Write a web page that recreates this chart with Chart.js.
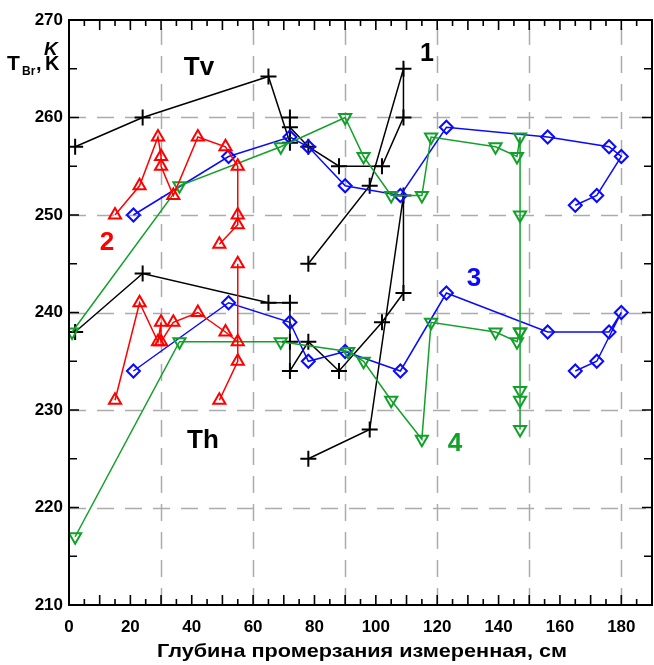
<!DOCTYPE html>
<html>
<head>
<meta charset="utf-8">
<script src="https://cdn.jsdelivr.net/npm/chart.js@4.4.1/dist/chart.umd.min.js"></script>
<style>
  html, body { margin: 0; padding: 0; background: #fff; }
</style>
</head>
<body>
<canvas id="chart" width="654" height="665"></canvas>
<script>
// Глубина, см (x) и яркостная температура, K (y)
// 1 — черные кресты
const s1TvX = [2, 24, 65, 72, 72, 72, 78, 88, 102, 109, 109, 98, 78];
const s1TvY = [257, 260, 264.2, 257.4, 260, 259, 257, 255, 255, 260, 265, 253, 245];
const s1ThX = [2, 24, 65, 72, 72, 72, 78, 88, 102, 109, 109, 98, 78];
const s1ThY = [238, 244, 241, 241, 237, 234, 237, 234, 239, 242, 252, 228, 225];
// 2 — красные треугольники
const s2TvX = [15, 23, 29, 30, 30, 34, 42, 51, 55, 55, 55, 49];
const s2TvY = [250, 253, 258, 256, 255, 252, 258, 257, 255, 250, 249, 247];
const s2ThX = [15, 23, 29, 30, 30, 34, 42, 51, 55, 55, 55, 49];
const s2ThY = [231, 241, 237, 239, 237, 239, 240, 238, 237, 245, 235, 231];
// 3 — синие ромбы
const s3TvX = [21, 52, 72, 78, 90, 108, 123, 156, 176, 180, 172, 165];
const s3TvY = [250, 256, 258, 257, 253, 252, 259, 258, 257, 256, 252, 251];
const s3ThX = [21, 52, 72, 78, 90, 108, 123, 156, 176, 180, 172, 165];
const s3ThY = [234, 241, 239, 235, 236, 234, 242, 238, 238, 240, 235, 234];
// 4 — зеленые перевернутые треугольники
const s4TvX = [1, 36, 69, 90, 96, 105, 115, 118, 139, 146, 147, 147, 147];
const s4TvY = [238, 253, 257, 260, 256, 252, 252, 258, 257, 256, 258, 250, 238];
const s4ThX = [2, 36, 69, 91, 96, 105, 115, 118, 139, 146, 147, 147, 147, 147];
const s4ThY = [217, 237, 237, 236, 235, 231, 227, 239, 238, 237, 238, 232, 231, 228];

const xTicks = [0, 20, 40, 60, 80, 100, 120, 140, 160, 180];
const yTicks = [210, 220, 230, 240, 250, 260, 270];
const xGrid = [30, 60, 90, 120, 150, 180];
const yGrid = [220, 230, 240, 250, 260];

const FONT = "'Liberation Sans', Arial, sans-serif";

function pts(xs, ys) {
    return xs.map((x, i) => ({ x: x, y: ys[i] }));
}

function series(xs, ys, color, style, radius, rotation) {
    return {
        data: pts(xs, ys),
        showLine: true,
        borderColor: color,
        backgroundColor: 'rgba(0,0,0,0)',
        borderWidth: 1.5,
        pointStyle: style,
        pointRadius: radius,
        pointRotation: rotation || 0,
        pointBorderWidth: 2,
        pointBorderColor: color,
        pointBackgroundColor: 'rgba(0,0,0,0)'
    };
}

const BLACK = '#000000', RED = '#ff0000', BLUE = '#0a0aff', GREEN = '#12a02a';

// сетка, рамка, засечки и подписи
const decor = {
    id: 'decor',
    beforeDatasetsDraw(chart) {
        const { ctx, chartArea: a, scales: { x, y } } = chart;
        ctx.save();
        ctx.strokeStyle = '#ababab';
        ctx.lineWidth = 1.5;
        ctx.setLineDash([17, 11]);
        xGrid.forEach(v => {
            const px = Math.round(x.getPixelForValue(v)) + 0.5;
            ctx.beginPath(); ctx.moveTo(px, a.bottom); ctx.lineTo(px, a.top); ctx.stroke();
        });
        yGrid.forEach(v => {
            const py = Math.round(y.getPixelForValue(v)) + 0.5;
            ctx.beginPath(); ctx.moveTo(a.left, py); ctx.lineTo(a.right, py); ctx.stroke();
        });
        ctx.restore();
    },
    afterDatasetsDraw(chart) {
        const { ctx, chartArea: a, scales: { x, y } } = chart;
        ctx.save();
        ctx.strokeStyle = '#000';
        ctx.lineWidth = 2;
        ctx.strokeRect(a.left, a.top, a.right - a.left, a.bottom - a.top);
        ctx.lineWidth = 1.6;
        ctx.beginPath();
        for (let v = 5; v < 190; v += 5) {
            const px = x.getPixelForValue(v);
            const len = v % 10 === 0 ? 10 : 6;
            ctx.moveTo(px, a.bottom); ctx.lineTo(px, a.bottom - len);
            ctx.moveTo(px, a.top); ctx.lineTo(px, a.top + len);
        }
        for (let v = 215; v < 270; v += 5) {
            const py = y.getPixelForValue(v);
            const len = v % 10 === 0 ? 10 : 8;
            ctx.moveTo(a.left, py); ctx.lineTo(a.left + len, py);
            ctx.moveTo(a.right, py); ctx.lineTo(a.right - len, py);
        }
        ctx.stroke();

        // подписи оси X
        ctx.fillStyle = '#000';
        ctx.textAlign = 'center';
        ctx.textBaseline = 'middle';
        ctx.font = 'bold 17px ' + FONT;
        xTicks.forEach(v => ctx.fillText(String(v), x.getPixelForValue(v), a.bottom + 22));

        // подписи кривых
        const label = (t, px, py, color, size) => {
            ctx.fillStyle = color;
            ctx.font = 'bold ' + size + 'px ' + FONT;
            ctx.fillText(t, px, py);
        };
        label('Tv', 199, 68, BLACK, 26);
        label('Th', 203, 441, BLACK, 26);
        label('1', 427, 54, BLACK, 25);
        label('2', 107, 243, RED, 26);
        label('3', 474, 279, BLUE, 26);
        label('4', 455, 444, GREEN, 26);

        // заголовок оси Y
        ctx.fillStyle = '#000';
        ctx.textAlign = 'left';
        ctx.textBaseline = 'alphabetic';
        ctx.font = 'bold 21px ' + FONT;
        ctx.fillText('T', 7, 70);
        ctx.font = 'bold 12px ' + FONT;
        ctx.fillText('Br', 22, 75);
        ctx.font = 'bold 20px ' + FONT;
        ctx.fillText(',', 36, 70);
        ctx.fillText('K', 45, 70);
        ctx.font = 'italic bold 19px ' + FONT;
        ctx.fillText('K', 44, 55);

        // заголовок оси X
        const title = 'Глубина промерзания измеренная, см';
        ctx.font = 'bold 19px ' + FONT;
        const w = ctx.measureText(title).width;
        ctx.translate(362, 657);
        ctx.scale(410 / w, 1);
        ctx.textAlign = 'center';
        ctx.fillText(title, 0, 0);
        ctx.restore();
    }
};

new Chart(document.getElementById('chart'), {
    type: 'scatter',
    data: {
        datasets: [
            series(s2TvX, s2TvY, RED, 'triangle', 7),
            series(s2ThX, s2ThY, RED, 'triangle', 7),
            series(s4TvX, s4TvY, GREEN, 'triangle', 7, 180),
            series(s4ThX, s4ThY, GREEN, 'triangle', 7, 180),
            series(s3TvX, s3TvY, BLUE, 'rectRot', 6.5),
            series(s3ThX, s3ThY, BLUE, 'rectRot', 6.5),
            series(s1TvX, s1TvY, BLACK, 'cross', 8),
            series(s1ThX, s1ThY, BLACK, 'cross', 8)
        ]
    },
    options: {
        responsive: false,
        animation: false,
        layout: { autoPadding: false, padding: { top: 20, right: 2, left: 0, bottom: 0 } },
        plugins: { legend: { display: false }, tooltip: { enabled: false } },
        scales: {
            x: {
                type: 'linear',
                min: 0,
                max: 190,
                afterFit(s) { s.height = 60; },
                grid: { display: false, drawTicks: false },
                border: { display: false },
                ticks: { display: false }
            },
            y: {
                type: 'linear',
                min: 210,
                max: 270,
                afterFit(s) { s.width = 69; },
                afterBuildTicks(s) { s.ticks = yTicks.map(v => ({ value: v })); },
                grid: { display: false, drawTicks: false },
                border: { display: false },
                ticks: {
                    color: '#000',
                    padding: 6,
                    font: { family: FONT, size: 17, weight: 'bold' }
                }
            }
        }
    },
    plugins: [decor]
});
</script>
</body>
</html>
